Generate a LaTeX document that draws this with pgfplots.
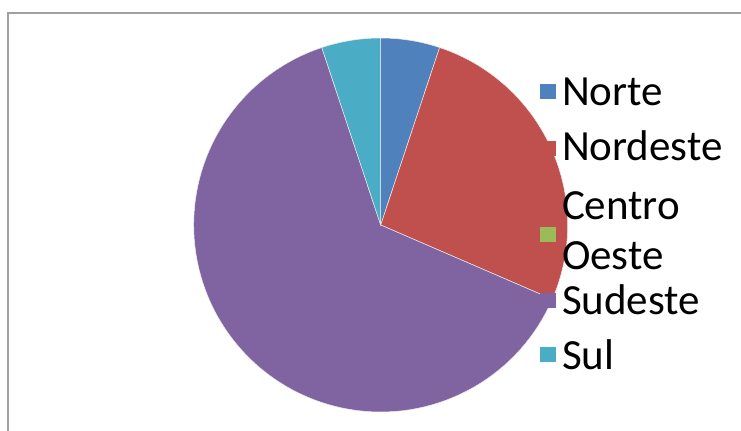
\documentclass[border=0pt]{standalone}
\usepackage{pgfplots}
\pgfplotsset{compat=1.18}
\usepackage{fontspec}
\setmainfont{Carlito}
\definecolor{cNorte}{HTML}{4F81BD}
\definecolor{cNordeste}{HTML}{C0504D}
\definecolor{cCO}{HTML}{9BBB59}
\definecolor{cSudeste}{HTML}{8064A2}
\definecolor{cSul}{HTML}{4BACC6}
\definecolor{cFrame}{RGB}{160,160,160}
\begin{document}
\begin{tikzpicture}
\begin{axis}[
  scale only axis, width=741bp, height=431bp,
  xmin=0, xmax=741, ymin=0, ymax=431, y dir=reverse,
  hide axis, clip=false,
  legend style={at={(axis cs:540,64)}, anchor=north west, draw=none, fill=none,
    inner sep=0pt, outer sep=0pt, row sep=0pt, column sep=6bp,
    font=\fontsize{43bp}{50bp}\selectfont,
    nodes={inner sep=0pt, outer sep=0pt, text height=41bp, text depth=12bp}},
  legend cell align=left,
  legend image code/.code={\fill[#1,draw=none] (0bp,-7.5bp) rectangle (16bp,7.5bp);},
]
% shares in percent, cumulative from 12 o'clock, clockwise:
% Norte 5.1, Nordeste 26.4, Centro-Oeste 0, Sudeste 63.4, Sul 5.1
\addplot[fill=cNorte, draw=white!85!gray, line width=0.5bp, domain=0:5.1, samples=20, variable=\t]
  ({380.7+187*sin(3.6*\t)},{225-187*cos(3.6*\t)}) -- (axis cs:380.7,225) -- cycle;
\addlegendentry[text depth=14bp]{Norte}
\addplot[fill=cNordeste, draw=white!85!gray, line width=0.5bp, domain=5.1:31.5, samples=50, variable=\t]
  ({380.7+187*sin(3.6*\t)},{225-187*cos(3.6*\t)}) -- (axis cs:380.7,225) -- cycle;
\addlegendentry[text depth=18bp]{Nordeste}
\addlegendimage{legend image code/.code={\fill[cCO,draw=none,overlay] (0bp,-38.5bp) rectangle (16bp,-23.5bp);}}
\addlegendentry[text depth=9bp]{Centro}
\addlegendimage{empty legend}
\addlegendentry[text depth=4bp]{Oeste}
\addplot[fill=cSudeste, draw=white!85!gray, line width=0.5bp, domain=31.5:94.9, samples=100, variable=\t]
  ({380.7+187*sin(3.6*\t)},{225-187*cos(3.6*\t)}) -- (axis cs:380.7,225) -- cycle;
\addlegendentry[text depth=14bp]{Sudeste}
\addplot[fill=cSul, draw=white!85!gray, line width=0.5bp, domain=94.9:100, samples=20, variable=\t]
  ({380.7+187*sin(3.6*\t)},{225-187*cos(3.6*\t)}) -- (axis cs:380.7,225) -- cycle;
\addlegendentry{Sul}
\draw[cFrame, line width=2.2bp] (axis cs:8,431) -- (axis cs:8,13) -- (axis cs:741,13);
\end{axis}
\pgfresetboundingbox
\path (current axis.south west) rectangle (current axis.north east);
\end{tikzpicture}
\end{document}
